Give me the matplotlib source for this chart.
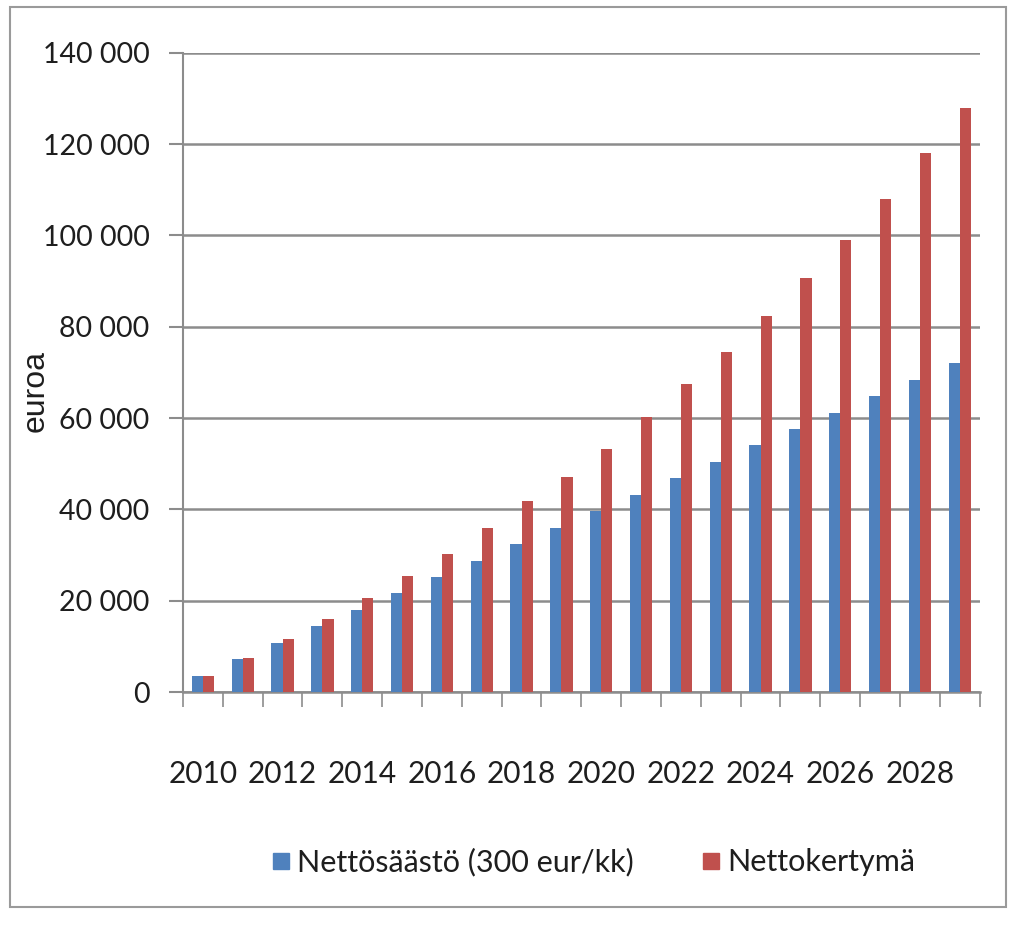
import matplotlib

matplotlib.use("Agg")
import matplotlib.pyplot as plt
import numpy as np
from matplotlib.lines import Line2D
from matplotlib.patches import Rectangle
from matplotlib.ticker import FuncFormatter

# data
YEARS = list(range(2010, 2030))
NETTOSAASTO = [3600, 7200, 10800, 14400, 18000, 21600, 25200, 28800, 32400, 36000,
               39600, 43200, 46800, 50400, 54000, 57600, 61200, 64800, 68400, 72000]
NETTOKERTYMA = [3600, 7500, 11700, 16000, 20500, 25300, 30300, 36000, 41800, 47000,
                53300, 60300, 67500, 74500, 82300, 90600, 99000, 108000, 118000, 128000]
LABELS = ["Nettösäästö (300 eur/kk)", "Nettokertymä"]
Y_LABEL = "euroa"

BLUE = "#4F81BD"
RED = "#C0504D"
GRID = "#8C8C8C"
INK = "#1E1E1E"
TEXT_FONT = ["Lato", "DejaVu Sans"]

fig = plt.figure(figsize=(10.11, 9.27), dpi=100)
ax = fig.add_axes([0.181, 0.2535, 0.788, 0.6895])

x = np.arange(len(YEARS))
w = 0.28
ax.bar(x - w / 2, NETTOSAASTO, width=w, color=BLUE, zorder=3)
ax.bar(x + w / 2, NETTOKERTYMA, width=w, color=RED, zorder=3)

ax.set_xlim(-0.5, len(YEARS) - 0.5)
ax.set_ylim(0, 140000)
ax.set_yticks(np.arange(0, 140001, 20000))
ax.yaxis.set_major_formatter(FuncFormatter(lambda v, _: f"{int(v):,}".replace(",", " ")))
ax.grid(axis="y", color=GRID, linewidth=1.8, zorder=0)

# tick marks at category boundaries, labels every second year at centres
ax.set_xticks(np.arange(-0.5, len(YEARS), 1.0))
ax.set_xticklabels([])
ax.set_xticks(x[::2], minor=True)
ax.set_xticklabels([str(y) for y in YEARS[::2]], minor=True)
ax.tick_params(axis="x", which="major", length=11, width=1.2, color=GRID, direction="out")
ax.tick_params(axis="x", which="minor", length=0, pad=49, labelsize=21.5, labelcolor=INK)
ax.tick_params(axis="y", length=10, width=1.5, color=GRID, pad=14, labelsize=20.5,
               labelcolor=INK)
for lab in ax.get_xticklabels(minor=True) + ax.get_yticklabels():
    lab.set_family(TEXT_FONT)

for side in ("top", "right"):
    ax.spines[side].set_visible(False)
ax.spines["left"].set_color(GRID)
ax.spines["left"].set_linewidth(1.5)
ax.spines["bottom"].set_color(GRID)
ax.spines["bottom"].set_linewidth(1.8)

fig.text(0.035, 0.578, Y_LABEL, rotation=90, ha="center", va="center",
         fontsize=23, color=INK, family=["Liberation Sans", "DejaVu Sans"])

handles = [Line2D([], [], marker="s", linestyle="none", markersize=12, color=c)
           for c in (BLUE, RED)]
fig.legend(handles, LABELS, loc="center", bbox_to_anchor=(0.587, 0.07), ncol=2,
           frameon=False, handlelength=0.6, handletextpad=0.25, columnspacing=2.2,
           prop={"family": TEXT_FONT, "size": 22}, labelcolor=INK)

# outer chart frame
fig.patches.append(Rectangle((0.010, 0.022), 0.985, 0.97, transform=fig.transFigure,
                             fill=False, edgecolor="#9A9A9A", linewidth=1.5))

fig.savefig("out.png")
